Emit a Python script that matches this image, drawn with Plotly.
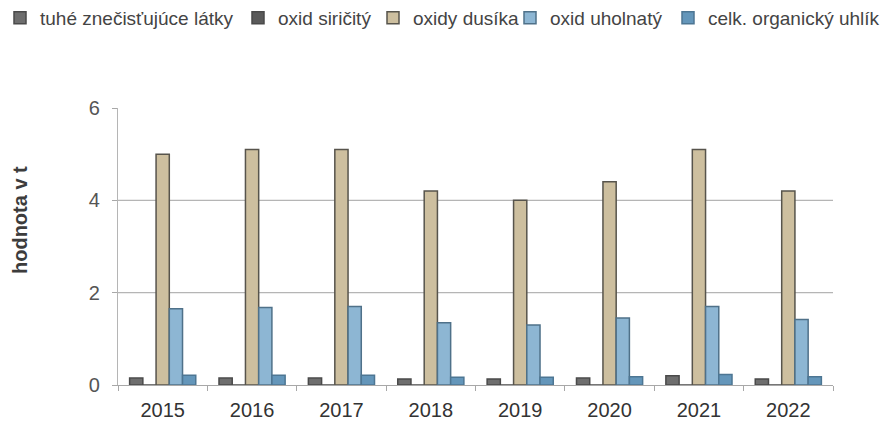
import plotly.graph_objects as go

years = ["2015", "2016", "2017", "2018", "2019", "2020", "2021", "2022"]
series_names = ["tuhé znečisťujúce látky", "oxid siričitý", "oxidy dusíka",
                "oxid uholnatý", "celk. organický uhlík"]
tuhe = [0.15, 0.15, 0.15, 0.13, 0.13, 0.15, 0.2, 0.13]
so2 = [0.0, 0.0, 0.0, 0.0, 0.0, 0.0, 0.0, 0.0]
nox = [5.0, 5.1, 5.1, 4.2, 4.0, 4.4, 5.1, 4.2]
co = [1.65, 1.68, 1.7, 1.35, 1.3, 1.45, 1.7, 1.42]
toc = [0.21, 0.21, 0.21, 0.17, 0.17, 0.18, 0.23, 0.18]
values = [tuhe, so2, nox, co, toc]

fills = ["#6e6e6e", "#5a5a5a", "#cdbf9f", "#8db6d3", "#6496ba"]
lines = ["#4a4a4a", "#4a4a4a", "#57544c", "#4f7189", "#4d7693"]
legend_widths = [193, 90, 92, 113, None]
legend_ids = ["legend", "legend", "legend", "legend", "legend2"]

L, R, T, B = 118, 55, 108, 36
W, H = 888, 421
PW, PH = W - L - R, H - T - B

fig = go.Figure()
for name, vals, fc, lc, lw, lg in zip(series_names, values, fills, lines,
                                       legend_widths, legend_ids):
    kw = dict(legendwidth=lw) if lw else {}
    fig.add_trace(go.Bar(
        x=years, y=vals, name=name, legend=lg,
        marker=dict(color=fc, line=dict(color=lc, width=1.5)),
        **kw,
    ))

leg_common = dict(
    orientation="h", xref="paper", yref="paper",
    y=1 + (T - 18) / PH, xanchor="left", yanchor="middle",
    font=dict(size=19, color="#444"), itemwidth=30,
    bgcolor="rgba(0,0,0,0)", traceorder="normal",
)

fig.update_layout(
    width=W, height=H,
    margin=dict(l=L, r=R, t=T, b=B, autoexpand=False),
    paper_bgcolor="white", plot_bgcolor="white",
    barmode="group", bargap=0.26, bargroupgap=0,
    font=dict(family="Liberation Sans, Arial, sans-serif", size=19, color="#444"),
    legend=dict(x=(0 - L) / PW, **leg_common),
    legend2=dict(x=(668 - L) / PW, **leg_common),
    shapes=[
        dict(type="line", xref="paper", yref="y", x0=0, x1=1, y0=v, y1=v,
             line=dict(color="#b5b5b5", width=1.2), layer="below")
        for v in [2, 4]
    ],
    annotations=[
        dict(text="<b>hodnota v t</b>", xref="paper", yref="paper",
             x=(20 - L) / PW, y=(H - B - 220) / PH, xanchor="center", yanchor="middle",
             textangle=-90, showarrow=False, font=dict(size=20, color="#3c3c3c"))
    ],
)

fig.update_xaxes(
    type="category", showline=True, linecolor="#a8a8a8", linewidth=1.2,
    ticks="outside", tickson="boundaries", ticklen=5, tickcolor="#a8a8a8",
    tickfont=dict(size=20, color="#333"), showgrid=False, ticklabelstandoff=7,
    automargin=False,
)
fig.update_yaxes(
    range=[0, 6], tickvals=[0, 2, 4, 6], showgrid=False, zeroline=False,
    showline=True, linecolor="#b5b5b5", linewidth=1.2,
    ticks="outside", ticklen=5, tickcolor="#a8a8a8",
    tickfont=dict(size=20, color="#555"), ticklabelstandoff=8, automargin=False,
)

fig.write_html("out.html")
